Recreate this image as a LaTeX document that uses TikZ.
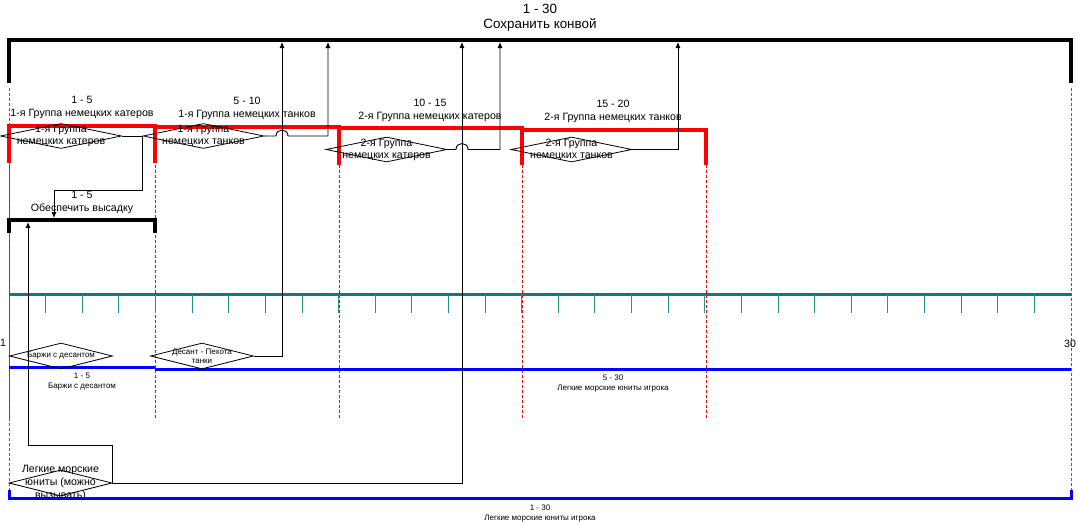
\documentclass[tikz,border=0pt]{standalone}
\usepackage{fontspec}
\setmainfont{Liberation Sans}
\usetikzlibrary{arrows.meta,shapes.geometric}
\definecolor{tlred}{HTML}{FF0000}
\definecolor{tlblue}{HTML}{0000FF}
\definecolor{tlteal}{HTML}{008080}
\tikzset{
  conarrow/.style={-{Latex[length=6pt,width=5pt]}, line width=0.9pt, draw=black},
  convoybar/.style={line width=3.2pt, draw=black},
  groupbar/.style={line width=3.2pt, draw=tlred},
  playerbar/.style={line width=3pt, draw=tlblue},
  scaleline/.style={line width=3pt, draw=tlteal},
  scaletick/.style={line width=0.9pt, draw=tlteal!85},
  reddash/.style={line width=1pt, draw=tlred, dash pattern=on 3pt off 2pt},
  bluedash/.style={line width=1pt, draw=tlblue!70, dash pattern=on 3pt off 2pt},
  milestone/.style={shape=diamond, draw=black, line width=0.8pt, inner sep=0pt,
    minimum width=121pt, minimum height=25pt},
  smallstone/.style={milestone, minimum width=103pt, minimum height=26pt},
  titletext/.style={font=\fontsize{13.4}{15}\selectfont, align=center, inner sep=0pt},
  bartext/.style={font=\fontsize{10.6}{13}\selectfont, align=center, inner sep=0pt},
  stonetext/.style={font=\fontsize{10.6}{12}\selectfont, align=center, inner sep=0pt},
  smalltext/.style={font=\fontsize{8}{10}\selectfont, align=center, inner sep=0pt},
  smallstonetext/.style={font=\fontsize{8}{9}\selectfont, align=center, inner sep=0pt}
}

\begin{document}
\begin{tikzpicture}[x=1pt, y=-1pt]
  \useasboundingbox (0,0) rectangle (1078,523);
  % guide lines
  \draw[bluedash] (9,88) -- (9,495);
  \draw[bluedash] (1071,88) -- (1071,495);
  \foreach \gx in {9,155,339,522,706}
    \draw[reddash] (\gx,165) -- (\gx,418);
  % convoy bar
  \draw[convoybar] (9,83) -- (9,40) -- (1071,40) -- (1071,83);
  \node[titletext] (convoy-lbl) at (540,17.5) {1 - 30\\Сохранить конвой};
  \coordinate (convoy-a) at (282,42);
  \coordinate (convoy-b) at (328,42);
  \coordinate (convoy-c) at (462,42);
  \coordinate (convoy-d) at (500,42);
  \coordinate (convoy-e) at (678,42);
  % german groups
  \draw[groupbar] (9,163) -- (9,126) -- (155,126) -- (155,163);
  \draw[groupbar] (155,163) -- (155,127) -- (339,127) -- (339,165);
  \draw[groupbar] (339,165) -- (339,128) -- (522,128) -- (522,165);
  \draw[groupbar] (522,165) -- (522,130) -- (706,130) -- (706,165);
  \node[bartext] (g1boats-lbl) at (82,107.5) {1 - 5\\1-я Группа немецких катеров};
  \node[bartext] (g1tanks-lbl) at (247,108) {5 - 10\\1-я Группа немецких танков};
  \node[bartext] (g2boats-lbl) at (430,110) {10 - 15\\2-я Группа немецких катеров};
  \node[bartext] (g2tanks-lbl) at (613,111.5) {15 - 20\\2-я Группа немецких танков};
  % landing bar
  \draw[convoybar] (9,233) -- (9,220) -- (155,220) -- (155,233);
  \node[bartext] (secure-lbl) at (82,202.5) {1 - 5\\Обеспечить высадку};
  \coordinate (secure-a) at (54,218);
  \coordinate (secure-b) at (28,222);
  % time scale
  \draw[scaleline] (9,294) -- (1071,294);
  \foreach \i in {1,...,28}
    \draw[scaletick] ({9+36.62*\i},295) -- ({9+36.62*\i},313);
  \node[bartext] (scale-start) at (3,343) {1};
  \node[bartext] (scale-end) at (1070,344) {30};
  % player bars
  \draw[playerbar] (9,367) -- (155,367);
  \draw[playerbar] (155,369) -- (1071,369);
  \draw[playerbar] (9,490) -- (9,498) -- (1071,498) -- (1071,490);
  \node[smalltext] (barges-lbl) at (82,382) {1 - 5\\Баржи с десантом};
  \node[smalltext] (player-lbl) at (613,384) {5 - 30\\Легкие морские юниты игрока};
  \node[smalltext] (player-all-lbl) at (540,514) {1 - 30\\Легкие морские юниты игрока};
  % milestones
  \node[milestone, label={[stonetext]center:1-я Группа\\немецких катеров}] (g1boats) at (61,136) {};
  \node[milestone, label={[stonetext]center:1-я Группа\\немецких танков}] (g1tanks) at (203.5,136) {};
  \node[milestone, label={[stonetext]center:2-я Группа\\немецких катеров}] (g2boats) at (386.5,149.5) {};
  \node[milestone, label={[stonetext]center:2-я Группа\\немецких танков}] (g2tanks) at (571.5,149.5) {};
  \node[smallstone, label={[smallstonetext]center:Баржи с десантом}] (barges) at (61,356) {};
  \node[smallstone, label={[smallstonetext]center:Десант - Пехота\\танки}] (landing) at (202,356) {};
  \node[smallstone, label={[bartext]center:Легкие морские\\юниты (можно\\вызывать)}] (lightunits) at (60.5,483) {};
  % links
  \draw[conarrow] (g1boats.east) -- (142,136) |- (54,190) -- (secure-a);
  \draw[conarrow] (g1tanks.east) -- (276,136) .. controls (276,128) and (288,128) .. (288,136) -- (328,136) -- (convoy-b);
  \draw[conarrow] (landing.east) -| (convoy-a);
  \draw[conarrow] (g2boats.east) -- (456,149.5) .. controls (456,141.5) and (468,141.5) .. (468,149.5) -- (500,149.5) -- (convoy-d);
  \draw[conarrow] (lightunits.east) -| (convoy-c);
  \draw[conarrow] (g2tanks.east) -| (convoy-e);
  \draw[conarrow] (lightunits.east) |- (28,445) -- (secure-b);
\end{tikzpicture}
\end{document}
